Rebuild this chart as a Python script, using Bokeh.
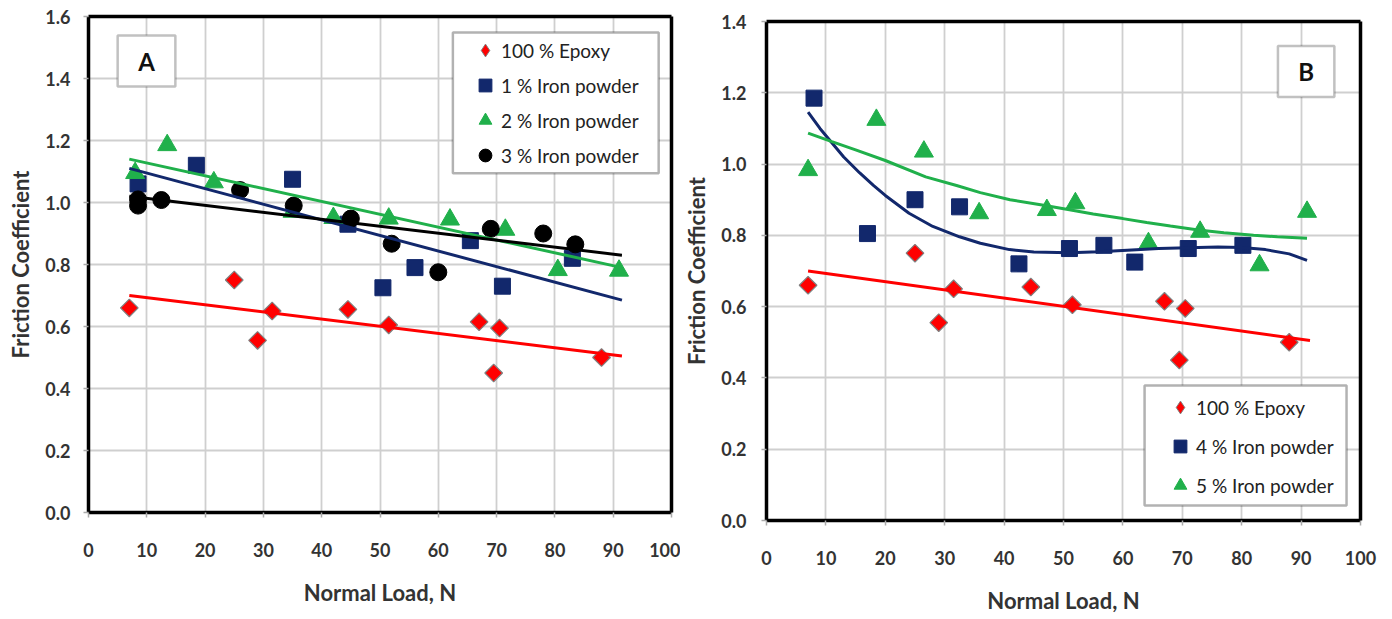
import numpy as np
from bokeh.plotting import figure
from bokeh.layouts import row
from bokeh.models import (Range1d, FixedTicker, PrintfTickFormatter, Legend, LegendItem,
                          BoxAnnotation, Label, LinearAxis)
from bokeh.embed import file_html
from bokeh.resources import INLINE

# ---------------- data ----------------
# Panel A
epoxy_x = [7, 25, 29, 31.5, 44.5, 51.5, 67, 70.5, 69.5, 88]
epoxy_y = [0.66, 0.75, 0.555, 0.65, 0.655, 0.605, 0.615, 0.595, 0.45, 0.50]

iron1_x = [8.5, 18.5, 35, 44.5, 50.5, 56, 65.5, 71, 83]
iron1_y = [1.06, 1.12, 1.075, 0.93, 0.725, 0.79, 0.877, 0.73, 0.82]

iron2_x = [8, 13.5, 21.5, 35, 42, 51.5, 62, 71.5, 80.5, 91]
iron2_y = [1.095, 1.185, 1.065, 0.97, 0.95, 0.948, 0.945, 0.912, 0.782, 0.78]

iron3_x = [8.5, 8.5, 12.5, 26, 35.2, 45, 52, 60, 69, 78, 83.5]
iron3_y = [1.01, 0.99, 1.008, 1.04, 0.99, 0.948, 0.867, 0.775, 0.915, 0.9, 0.865]

# linear trend lines (end points)
trend_x = [7, 91.5]
epoxy_trend_y = [0.70, 0.505]
iron1_trend_y = [1.11, 0.685]
iron2_trend_y = [1.14, 0.79]
iron3_trend_y = [1.02, 0.83]

# Panel B
iron4_x = [8, 17, 25, 32.5, 42.5, 51, 56.8, 62, 71, 80.2]
iron4_y = [1.185, 0.805, 0.9, 0.88, 0.72, 0.763, 0.772, 0.725, 0.763, 0.772]

iron5_x = [7, 18.5, 26.5, 35.8, 47.2, 52, 64.3, 73, 83, 91]
iron5_y = [0.983, 1.124, 1.035, 0.862, 0.871, 0.89, 0.778, 0.81, 0.716, 0.866]

# curved trend lines in panel B
iron4_curve_x = [7, 9, 11, 13, 15.7, 18, 20, 24, 28, 32.5, 36, 40.9, 45, 51, 56, 61.5, 66, 71, 76, 80, 84, 88, 91]
iron4_curve_y = [1.146, 1.10, 1.06, 1.02, 0.975, 0.94, 0.912, 0.862, 0.825, 0.796, 0.778, 0.76, 0.753, 0.751, 0.754, 0.759, 0.763, 0.765, 0.767, 0.766, 0.76, 0.748, 0.73]

iron5_curve_x = [7, 11, 15, 20, 26.8, 32, 36, 41, 46.4, 51, 55, 60, 64, 68, 72.7, 77, 82, 86, 91]
iron5_curve_y = [1.087, 1.063, 1.04, 1.01, 0.964, 0.94, 0.92, 0.90, 0.885, 0.872, 0.86, 0.847, 0.836, 0.826, 0.815, 0.807, 0.80, 0.796, 0.792]

x_ticks = [0, 10, 20, 30, 40, 50, 60, 70, 80, 90, 100]
yA_ticks = [0.0, 0.2, 0.4, 0.6, 0.8, 1.0, 1.2, 1.4, 1.6]
yB_ticks = [0.0, 0.2, 0.4, 0.6, 0.8, 1.0, 1.2, 1.4]

x_title = "Normal Load, N"
y_title = "Friction Coefficient"

# ---------------- style ----------------
RED = "#ff0000"
NAVY = "#12286c"
GREEN = "#20b04b"
BLACK = "#000000"
FONT = "Lato"
TXT = "#333333"


def make_fig(w, h, ymax, yticks, ml, mr, mt, mb, ystd, ylstd, xstd, xlstd):
    p = figure(width=w, height=h, x_range=Range1d(0, 100), y_range=Range1d(0, ymax),
               output_backend="svg", toolbar_location=None,
               min_border_left=ml, min_border_right=mr, min_border_top=mt, min_border_bottom=mb)
    p.background_fill_color = "white"
    p.border_fill_color = "white"
    p.outline_line_color = None
    p.xaxis.ticker = FixedTicker(ticks=x_ticks)
    p.yaxis.ticker = FixedTicker(ticks=yticks)
    p.yaxis.formatter = PrintfTickFormatter(format="%.1f")
    for ax in (p.xaxis, p.yaxis):
        ax.axis_line_color = "black"
        ax.axis_line_width = 3.5
        ax.major_tick_in = 0
        ax.major_tick_out = 5
        ax.major_tick_line_color = "#aaaaaa"
        ax.major_tick_line_width = 1.5
        ax.minor_tick_line_color = None
        ax.major_label_text_font = FONT
        ax.major_label_text_font_style = "bold"
        ax.major_label_text_font_size = "18px"
        ax.major_label_text_color = TXT
        ax.axis_label_text_font = FONT
        ax.axis_label_text_font_style = "bold"
        ax.axis_label_text_font_size = "22px"
        ax.axis_label_text_color = TXT
    p.xaxis.axis_label = x_title
    p.yaxis.axis_label = y_title
    p.yaxis.major_label_standoff = ystd
    p.yaxis.axis_label_standoff = ylstd
    p.xaxis.major_label_standoff = xstd
    p.xaxis.axis_label_standoff = xlstd
    p.grid.grid_line_color = "#cfcfcf"
    p.grid.grid_line_width = 1.8
    # plain border lines on the top and right sides of the plot area
    for side in ("above", "right"):
        ax = LinearAxis(ticker=FixedTicker(ticks=[]), axis_line_color="black", axis_line_width=3.5,
                        major_tick_line_color=None, minor_tick_line_color=None,
                        major_label_text_font_size="0px", major_label_standoff=0)
        p.add_layout(ax, side)
    return p


def legend_box(p, l, r, b, t):
    p.add_layout(BoxAnnotation(left=l, right=r, bottom=b, top=t, fill_color="white", fill_alpha=1,
                               line_color="black", line_width=2.5))


def make_legend(items, loc, spacing):
    lg = Legend(items=items, location=loc, glyph_width=32, glyph_height=32, label_height=32,
                spacing=spacing, padding=0, margin=0, label_standoff=-6)
    lg.border_line_color = None
    lg.background_fill_alpha = 0
    lg.label_text_font = FONT
    lg.label_text_font_size = "19px"
    lg.label_text_color = "#222222"
    return lg


def proxies(p, specs):
    # legend-only markers (no data point shown)
    out = []
    for marker, color, line in specs:
        out.append(p.scatter([np.nan], [np.nan], marker=marker, size=10, fill_color=color,
                             line_color=line, line_width=1))
    return out


# ---------------- panel A ----------------
pA = make_fig(680, 619, 1.6, yA_ticks, 88, 9, 16, 107, 13, 8, 25, 19)

pA.scatter(epoxy_x, epoxy_y, marker="square", angle=np.pi / 4, size=12.5,
           fill_color=RED, line_color="#808080", line_width=1.2)
pA.scatter(iron1_x, iron1_y, marker="square", size=16, fill_color=NAVY, line_color=NAVY)
pA.scatter(iron2_x, iron2_y, marker="triangle", size=19, fill_color=GREEN, line_color=GREEN)
pA.scatter(iron3_x, iron3_y, marker="circle", size=17, fill_color=BLACK, line_color=BLACK)

pA.line(trend_x, epoxy_trend_y, line_color=RED, line_width=3)
pA.line(trend_x, iron1_trend_y, line_color=NAVY, line_width=3)
pA.line(trend_x, iron2_trend_y, line_color=GREEN, line_width=3)
pA.line(trend_x, iron3_trend_y, line_color=BLACK, line_width=3)

pxA = proxies(pA, [("diamond", RED, "#808080"), ("square", NAVY, NAVY),
                   ("triangle", GREEN, GREEN), ("circle", BLACK, BLACK)])
legend_box(pA, 62.5, 97.8, 1.094, 1.548)
pA.add_layout(make_legend([LegendItem(label="100 % Epoxy", renderers=[pxA[0]]),
                           LegendItem(label="1 % Iron powder", renderers=[pxA[1]]),
                           LegendItem(label="2 % Iron powder", renderers=[pxA[2]]),
                           LegendItem(label="3 % Iron powder", renderers=[pxA[3]])],
                          (381, 341), 3))

pA.add_layout(BoxAnnotation(left=5.0, right=14.9, bottom=1.374, top=1.539,
                            fill_color="white", fill_alpha=1, line_color="#333333", line_width=2.5))
pA.add_layout(Label(x=9.95, y=1.456, text="A", text_align="center", text_baseline="middle",
                    text_font=FONT, text_font_style="bold", text_font_size="24px", text_color="#111111"))

# ---------------- panel B ----------------
pB = make_fig(712, 622, 1.4, yB_ticks, 83, 32, 16, 107, 15, 8, 25, 19)
pB.margin = (5, 0, 0, 0)

pB.scatter(epoxy_x, epoxy_y, marker="square", angle=np.pi / 4, size=12.5,
           fill_color=RED, line_color="#808080", line_width=1.2)
pB.scatter(iron4_x, iron4_y, marker="square", size=16, fill_color=NAVY, line_color=NAVY)
pB.scatter(iron5_x, iron5_y, marker="triangle", size=19, fill_color=GREEN, line_color=GREEN)

pB.line(trend_x, epoxy_trend_y, line_color=RED, line_width=3)
pB.line(iron4_curve_x, iron4_curve_y, line_color=NAVY, line_width=3)
pB.line(iron5_curve_x, iron5_curve_y, line_color=GREEN, line_width=3)

pxB = proxies(pB, [("diamond", RED, "#808080"), ("square", NAVY, NAVY), ("triangle", GREEN, GREEN)])
legend_box(pB, 63.65, 97.65, 0.042, 0.379)
pB.add_layout(make_legend([LegendItem(label="100 % Epoxy", renderers=[pxB[0]]),
                           LegendItem(label="4 % Iron powder", renderers=[pxB[1]]),
                           LegendItem(label="5 % Iron powder", renderers=[pxB[2]])],
                          (398, 19), 7))

pB.add_layout(BoxAnnotation(left=86.1, right=95.6, bottom=1.188, top=1.331,
                            fill_color="white", fill_alpha=1, line_color="#333333", line_width=2.5))
pB.add_layout(Label(x=90.85, y=1.26, text="B", text_align="center", text_baseline="middle",
                    text_font=FONT, text_font_style="bold", text_font_size="24px", text_color="#111111"))

layout = row(pA, pB, spacing=0)
open("out.html", "w").write(file_html(layout, INLINE))
